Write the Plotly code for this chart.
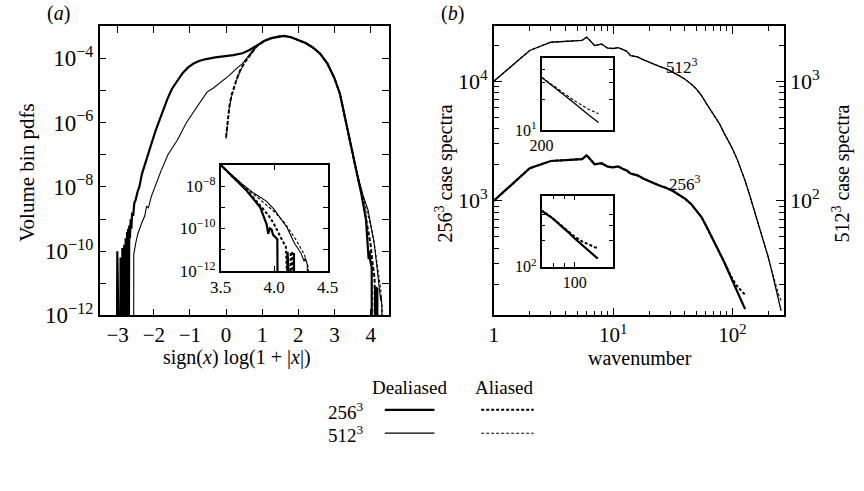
import numpy as np
import plotly.graph_objects as go

SERIF = "Liberation Serif, Times New Roman, Times, serif"
W, H = 864, 491
FLOOR = -16.0   # log10 value used for empty bins (pdf = 0) -> drawn below the axis

# ---------------- panel (a): volume-bin pdfs (log10 of pdf) ----------------
a256d_x = [-3.03, -3.01, -2.99, -2.93, -2.92, -2.91, -2.88, -2.87, -2.86, -2.83, -2.82, -2.81,
           -2.79, -2.78, -2.77, -2.75, -2.74, -2.73, -2.71, -2.70, -2.68, -2.66, -2.64, -2.62,
           -2.60, -2.57, -2.54, -2.50, -2.45, -2.40, -2.33, -2.25, -2.15, -2.05, -1.95, -1.85,
           -1.75, -1.62, -1.50, -1.35, -1.20, -1.05, -0.90, -0.75, -0.55, -0.30, -0.05, 0.20,
           0.45, 0.65, 0.85, 1.05, 1.25, 1.45, 1.60, 1.80, 2.00, 2.20, 2.40, 2.60, 2.80, 3.00,
           3.15, 3.33, 3.50, 3.62, 3.74, 3.87, 3.93, 3.945, 3.96, 3.976, 3.99, 4.03, 4.035,
           4.12, 4.125, 4.13, 4.18, 4.185, 4.19]
a256d_logy = [FLOOR, -10.0, FLOOR, FLOOR, -10.2, FLOOR, FLOOR, -9.9, FLOOR, FLOOR, -9.8, FLOOR,
              FLOOR, -9.6, FLOOR, FLOOR, -9.4, -10.4, -9.3, FLOOR, -9.2, -9.6, -9.0, -9.3,
              -8.8, -8.9, -8.5, -8.4, -8.15, -8.0, -7.6, -7.3, -6.9, -6.6, -6.25, -5.95,
              -5.6, -5.25, -4.95, -4.68, -4.45, -4.28, -4.16, -4.08, -4.02, -3.97, -3.94, -3.90,
              -3.84, -3.74, -3.60, -3.46, -3.37, -3.32, -3.30, -3.34, -3.42, -3.52, -3.66, -3.85,
              -4.15, -4.62, -5.10, -6.05, -7.0, -7.6, -8.2, -9.0, -9.8, -10.25, -10.0, -10.05,
              -10.3, -10.5, FLOOR, FLOOR, -11.1, FLOOR, FLOOR, -11.15, FLOOR]

a512d_x = [-2.56, -2.555, -2.50, -2.44, -2.34, -2.25, -2.20, -2.15, -2.07, -1.97, -1.80, -1.61,
           -1.35, -1.10, -0.80, -0.53, -0.35, -0.10, 0.09, 0.30, 0.45, 0.60, 0.81, 1.05, 1.25,
           1.45, 1.60, 1.80, 2.00, 2.20, 2.40, 2.60, 2.80, 3.00, 3.15, 3.33, 3.50, 3.60, 3.70,
           3.80, 3.93, 4.00, 4.08, 4.12, 4.19, 4.25, 4.28, 4.29, 4.31, 4.315]
a512d_logy = [FLOOR, -10.1, -9.75, -9.45, -9.14, -8.9, -8.6, -8.65, -8.3, -8.0, -7.5, -7.0,
              -6.55, -6.0, -5.52, -5.05, -4.92, -4.70, -4.53, -4.30, -4.17, -3.95, -3.64, -3.46,
              -3.37, -3.32, -3.30, -3.34, -3.42, -3.52, -3.66, -3.85, -4.15, -4.62, -5.10, -6.05,
              -7.0, -7.45, -7.9, -8.3, -8.72, -9.1, -9.63, -9.95, -10.7, -11.15, -11.55, -11.4,
              -11.7, FLOOR]

a256a_x = [0.0, 0.04, 0.09, 0.15, 0.22, 0.30, 0.40, 0.50, 0.63, 0.75, 0.85, 1.05, 1.25, 1.45,
           1.60, 1.80, 2.00, 2.20, 2.40, 2.60, 2.80, 3.00, 3.15, 3.33, 3.50, 3.62, 3.74, 3.85,
           3.95, 4.00, 4.04, 4.08, 4.11, 4.115, 4.15, 4.155, 4.17, 4.175]
a256a_logy = [-6.45, -6.0, -5.5, -5.15, -4.88, -4.62, -4.35, -4.15, -3.95, -3.76, -3.62, -3.46,
              -3.37, -3.32, -3.30, -3.34, -3.42, -3.52, -3.66, -3.85, -4.15, -4.62, -5.10, -6.05,
              -7.0, -7.6, -8.15, -8.8, -9.4, -9.8, -10.24, -10.6, -10.85, FLOOR, FLOOR, -11.1,
              -11.16, FLOOR]

a512a_x = [0.0, 0.04, 0.09, 0.15, 0.22, 0.30, 0.40, 0.50, 0.63, 0.75, 0.85, 1.05, 1.25, 1.45,
           1.60, 1.80, 2.00, 2.20, 2.40, 2.60, 2.80, 3.00, 3.15, 3.33, 3.50, 3.65, 3.80, 3.90,
           4.00, 4.10, 4.20, 4.28, 4.32, 4.33]
a512a_logy = [-6.5, -6.05, -5.55, -5.18, -4.9, -4.64, -4.37, -4.16, -3.96, -3.77, -3.62, -3.46,
              -3.37, -3.32, -3.30, -3.34, -3.42, -3.52, -3.66, -3.85, -4.15, -4.62, -5.10, -6.05,
              -7.0, -7.7, -8.35, -8.75, -9.2, -9.75, -10.5, -11.2, -11.85, FLOOR]

# ---------------- panel (b): energy spectra ----------------
k256 = [1, 2, 3, 4, 5, 5.5, 6, 7, 8, 9, 10, 11, 12, 13, 14, 15, 16, 18, 20, 22, 25, 28, 32, 36,
        40, 45, 50, 55, 60, 65, 70, 78, 85, 92, 100, 108, 116, 124, 128]
s256_dealiased = [1000, 1870, 2150, 2180, 2200, 2230, 2400, 2020, 2060, 1930, 1900, 1940, 1850,
                  1790, 1690, 1650, 1630, 1530, 1450, 1400, 1330, 1280, 1200, 1120, 1040, 940,
                  830, 730, 620, 530, 445, 370, 310, 258, 212, 178, 152, 132, 124]
s256_aliased = [1000, 1870, 2150, 2180, 2200, 2230, 2400, 2020, 2060, 1930, 1900, 1940, 1850,
                1790, 1690, 1650, 1630, 1530, 1450, 1400, 1330, 1280, 1200, 1120, 1040, 940,
                830, 730, 620, 530, 445, 370, 310, 260, 222, 196, 180, 168, 164]

k512 = [1, 2, 3, 4, 5, 5.5, 6, 7, 8, 9, 10, 11, 12, 13, 14, 15, 16, 18, 20, 22, 25, 28, 32, 36,
        40, 45, 50, 55, 60, 65, 70, 78, 85, 92, 100, 110, 120, 128, 140, 150, 165, 180, 200,
        215, 230, 245, 256]
s512_dealiased = [1000, 1810, 2120, 2150, 2170, 2200, 2340, 1990, 2050, 1890, 1880, 1910, 1846,
                  1780, 1640, 1610, 1600, 1510, 1440, 1390, 1320, 1268, 1190, 1110, 1040, 950,
                  860, 760, 660, 580, 510, 440, 370, 320, 273, 220, 175, 146, 110, 88, 64, 47,
                  33.5, 25.0, 18.8, 14.3, 12.0]
s512_aliased = [1000, 1810, 2120, 2150, 2170, 2200, 2340, 1990, 2050, 1890, 1880, 1910, 1846,
                1780, 1640, 1610, 1600, 1510, 1440, 1390, 1320, 1268, 1190, 1110, 1040, 950,
                860, 760, 660, 580, 510, 440, 370, 320, 273, 220, 175, 146, 110, 88, 64, 47,
                33.5, 25.3, 19.8, 16.2, 14.6]

# tick labels
a_xticks = [-3, -2, -1, 0, 1, 2, 3, 4]
a_xticktext = ["\u22123", "\u22122", "\u22121", "0", "1", "2", "3", "4"]
a_yticks = [1e-12, 1e-10, 1e-8, 1e-6, 1e-4]
a_yticktext = ["10<sup>\u221212</sup>", "10<sup>\u221210</sup>", "10<sup>\u22128</sup>",
               "10<sup>\u22126</sup>", "10<sup>\u22124</sup>"]
ia_yticks = [1e-12, 1e-10, 1e-8]
ia_yticktext = ["10<sup>\u221212</sup>", "10<sup>\u221210</sup>", "10<sup>\u22128</sup>"]
ia_xticks = [3.5, 4.0, 4.5]
ia_xticktext = ["3.5", "4.0", "4.5"]
b_xticks = [1, 10, 100]
b_xticktext = ["1", "10<sup>1</sup>", "10<sup>2</sup>"]

def px_x(p):
    return p / W

def px_y(p):
    return 1 - p / H

fig = go.Figure()

def line(width, dash="solid"):
    return dict(color="black", width=width, dash=dash)

pow10 = lambda a: np.power(10.0, np.array(a))

# ---- panel (a) main
fig.add_trace(go.Scatter(x=a512a_x, y=pow10(a512a_logy), mode="lines", line=line(1.1, "3px,2px"), xaxis="x", yaxis="y"))
fig.add_trace(go.Scatter(x=a256a_x, y=pow10(a256a_logy), mode="lines", line=line(2.0, "4px,2px"), xaxis="x", yaxis="y"))
fig.add_trace(go.Scatter(x=a512d_x, y=pow10(a512d_logy), mode="lines", line=line(1.1), xaxis="x", yaxis="y"))
fig.add_trace(go.Scatter(x=a256d_x, y=pow10(a256d_logy), mode="lines", line=line(2.2), xaxis="x", yaxis="y"))
# ---- panel (a) inset
fig.add_trace(go.Scatter(x=a512a_x, y=pow10(a512a_logy), mode="lines", line=line(1.1, "3px,2px"), xaxis="x3", yaxis="y3"))
fig.add_trace(go.Scatter(x=a256a_x, y=pow10(a256a_logy), mode="lines", line=line(2.0, "3px,2px"), xaxis="x3", yaxis="y3"))
fig.add_trace(go.Scatter(x=a512d_x, y=pow10(a512d_logy), mode="lines", line=line(1.1), xaxis="x3", yaxis="y3"))
fig.add_trace(go.Scatter(x=a256d_x, y=pow10(a256d_logy), mode="lines", line=line(2.2), xaxis="x3", yaxis="y3"))

# ---- panel (b) main
fig.add_trace(go.Scatter(x=k256, y=s256_aliased, mode="lines", line=line(2.0, "3px,2px"), xaxis="x2", yaxis="y2"))
fig.add_trace(go.Scatter(x=k256, y=s256_dealiased, mode="lines", line=line(2.2), xaxis="x2", yaxis="y2"))
fig.add_trace(go.Scatter(x=k512, y=s512_aliased, mode="lines", line=line(1.1, "3px,2px"), xaxis="x2", yaxis="y4"))
fig.add_trace(go.Scatter(x=k512, y=s512_dealiased, mode="lines", line=line(1.3), xaxis="x2", yaxis="y4"))
# ---- panel (b) insets
fig.add_trace(go.Scatter(x=k512, y=s512_aliased, mode="lines", line=line(1.1, "3px,2px"), xaxis="x5", yaxis="y5"))
fig.add_trace(go.Scatter(x=k512, y=s512_dealiased, mode="lines", line=line(1.3), xaxis="x5", yaxis="y5"))
fig.add_trace(go.Scatter(x=k256, y=s256_aliased, mode="lines", line=line(2.0, "3px,2px"), xaxis="x6", yaxis="y6"))
fig.add_trace(go.Scatter(x=k256, y=s256_dealiased, mode="lines", line=line(2.2), xaxis="x6", yaxis="y6"))


def axis(size=21, ticklen=7, **kw):
    d = dict(showline=True, linecolor="black", linewidth=1.5, mirror="ticks", ticks="inside",
             tickcolor="black", tickwidth=1.2, ticklen=ticklen, showgrid=False, zeroline=False,
             tickfont=dict(family=SERIF, size=size, color="black"), tickmode="array")
    d.update(kw)
    return d


def minor(vals, ticklen=4):
    return dict(tickmode="array", tickvals=vals, ticks="inside", ticklen=ticklen,
                tickcolor="black", tickwidth=1.0, showgrid=False)


A_X = [px_x(90), px_x(387)]
A_Y = [px_y(324), px_y(27)]
B_X = [px_x(495), px_x(793)]
IA_X = [px_x(214.3), px_x(324.3)]
IA_Y = [px_y(278.3), px_y(169.3)]
IB_X = [px_x(544), px_x(617)]
IBU_Y = [px_y(134), px_y(60)]
IBL_Y = [px_y(274), px_y(201)]

dec_minor = [m * 10 ** e for e in range(0, 5) for m in range(2, 10)]

fig.update_layout(
    width=W, height=H, margin=dict(l=0, r=0, t=0, b=0),
    paper_bgcolor="white", plot_bgcolor="white", showlegend=False,
    font=dict(family=SERIF, color="black"),
    xaxis=axis(domain=A_X, range=[-3.5, 4.5], tickvals=a_xticks, ticktext=a_xticktext, anchor="y"),
    yaxis=axis(size=23, domain=A_Y, type="log", range=[-12, -3], tickvals=a_yticks,
               ticktext=a_yticktext, anchor="x", minor=minor([1e-11, 1e-9, 1e-7, 1e-5], 7)),
    xaxis3=axis(size=17, ticklen=5, domain=IA_X, range=[3.5, 4.5], tickvals=ia_xticks,
                ticktext=ia_xticktext, anchor="y3"),
    yaxis3=axis(size=17, ticklen=5, domain=IA_Y, type="log", range=[-12, -7], tickvals=ia_yticks,
                ticktext=ia_yticktext, anchor="x3", minor=minor([1e-11, 1e-9], 5)),
    xaxis2=axis(size=21, domain=B_X, type="log", range=[0, np.log10(270)], tickvals=b_xticks,
                ticktext=b_xticktext, anchor="y2", ticklen=8, minor=minor(dec_minor, 5)),
    yaxis2=axis(size=22, domain=A_Y, type="log", range=[2.04, 4.46], tickvals=[1e3, 1e4],
                ticktext=["10<sup>3</sup>", "10<sup>4</sup>"], anchor="x2", mirror=False,
                ticklen=8, minor=minor(dec_minor, 5)),
    yaxis4=axis(size=22, type="log", range=[1.04, 3.46], tickvals=[1e2, 1e3],
                ticktext=["10<sup>2</sup>", "10<sup>3</sup>"], anchor="x2", overlaying="y2",
                side="right", mirror=False, ticklen=8, minor=minor(dec_minor, 5)),
    xaxis5=axis(size=16, ticklen=4, domain=IB_X, type="log", range=[np.log10(200), np.log10(272)],
                tickvals=[200], ticktext=["200"], anchor="y5"),
    yaxis5=axis(size=16, ticklen=4, domain=IBU_Y, type="log", range=[1, 1.71], tickvals=[10],
                ticktext=["10<sup>1</sup>"], anchor="x5", minor=minor([20, 30, 40], 4)),
    xaxis6=axis(size=16, ticklen=5, domain=IB_X, type="log", range=[np.log10(70), np.log10(150)],
                tickvals=[100], ticktext=["100"], anchor="y6", minor=minor([80, 90], 4)),
    yaxis6=axis(size=16, ticklen=4, domain=IBL_Y, type="log", range=[2, 2.82], tickvals=[100],
                ticktext=["10<sup>2</sup>"], anchor="x6", minor=minor([200, 300, 400], 4)),
)

ann = []

def text(x, y, s, size=16, angle=0, xanchor="center"):
    ann.append(dict(x=px_x(x), y=px_y(y), xref="paper", yref="paper", text=s, showarrow=False,
                    textangle=angle, xanchor=xanchor, yanchor="middle",
                    font=dict(family=SERIF, size=size, color="black")))

text(48, 14, "(<i>a</i>)", 20)
text(453, 14, "(<i>b</i>)", 20)
text(16, 178, "Volume bin pdfs", 21, -90)
text(231, 367, "sign(<i>x</i>) log(1 + |<i>x</i>|)", 20)
text(645, 368, "wavenumber", 20)
text(444, 178, "256<sup>3</sup> case spectra", 20, -90)
text(852, 178, "512<sup>3</sup> case spectra", 20, -90)
text(688, 68, "512<sup>3</sup>", 17)
text(691, 188, "256<sup>3</sup>", 17)
text(408, 398, "Dealiased", 19)
text(506, 398, "Aliased", 19)
text(364, 422, "256<sup>3</sup>", 19, xanchor="right")
text(364, 446, "512<sup>3</sup>", 19, xanchor="right")
fig.update_layout(annotations=ann)

shapes = []
def seg(x0, x1, y, width, dash="solid"):
    shapes.append(dict(type="line", xref="paper", yref="paper", x0=px_x(x0), x1=px_x(x1),
                       y0=px_y(y), y1=px_y(y), line=dict(color="black", width=width, dash=dash)))

seg(383, 434, 421, 2.2)
seg(482, 536, 421, 2.0, "3px,2px")
seg(383, 434, 445, 1.2)
seg(482, 536, 445, 1.1, "3px,2px")
fig.update_layout(shapes=shapes)

fig.write_html("out.html")
